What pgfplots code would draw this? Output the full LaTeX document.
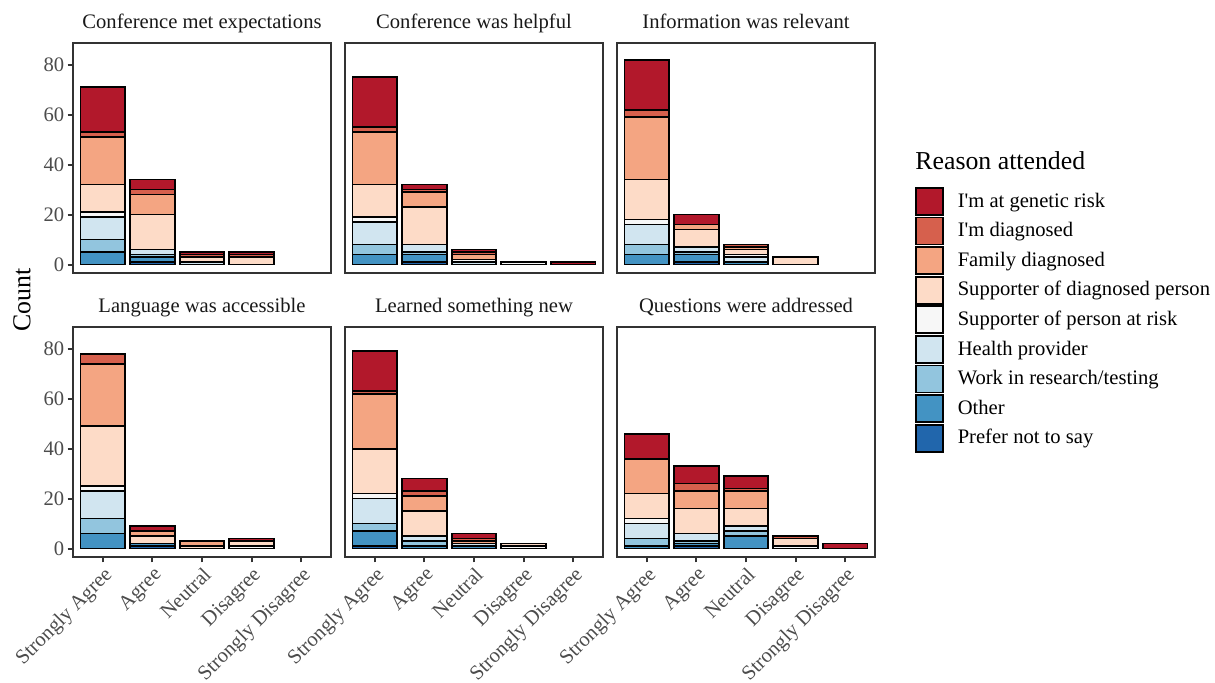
\documentclass[border=0pt]{standalone}
\usepackage{fontspec}
\setmainfont{Liberation Serif}
\usepackage{pgfplots}
\usepackage{pgfplotstable}
\pgfplotsset{compat=1.18}

% RdBu palette, one colour per reason
\definecolor{cG}{HTML}{B2182B}% I'm at genetic risk
\definecolor{cD}{HTML}{D6604D}% I'm diagnosed
\definecolor{cF}{HTML}{F4A582}% Family diagnosed
\definecolor{cSD}{HTML}{FDDBC7}% Supporter of diagnosed person
\definecolor{cSR}{HTML}{F7F7F7}% Supporter of person at risk
\definecolor{cH}{HTML}{D1E5F0}% Health provider
\definecolor{cW}{HTML}{92C5DE}% Work in research/testing
\definecolor{cO}{HTML}{4393C3}% Other
\definecolor{cP}{HTML}{2166AC}% Prefer not to say

% x: 0 Strongly Agree, 1 Agree, 2 Neutral, 3 Disagree, 4 Strongly Disagree
% columns: p prefer, o other, w research, h health, sr supp. at risk,
%          sd supp. diagnosed, f family, d diagnosed, g genetic risk
\pgfplotstableread{
x p o w h sr sd f d g
0 0 5 5 9 2 11 19 2 18
1 1 2 1 2 0 14 8 2 4
2 0 0 0 1 0 2 0 1 1
3 0 0 0 0 0 3 0 1 1
}\tabExpect
\pgfplotstableread{
x p o w h sr sd f d g
0 0 4 4 9 2 13 21 2 20
1 1 3 1 3 0 15 6 1 2
2 0 0 0 1 1 0 2 1 1
3 0 0 0 0 1 0 0 0 0
4 0 0 0 0 0 0 0 0 1
}\tabHelpful
\pgfplotstableread{
x p o w h sr sd f d g
0 0 4 4 8 2 16 25 3 20
1 1 3 1 2 0 7 2 0 4
2 0 1 0 2 1 2 1 1 0
3 0 0 0 0 0 3 0 0 0
}\tabRelevant
\pgfplotstableread{
x p o w h sr sd f d g
0 0 6 6 11 2 24 25 4 0
1 1 1 0 0 0 3 2 0 2
2 0 0 0 0 0 1 2 0 0
3 0 0 0 0 1 2 0 0 1
}\tabLanguage
\pgfplotstableread{
x p o w h sr sd f d g
0 1 6 3 10 2 18 22 1 16
1 0 1 2 2 0 10 6 2 5
2 0 1 0 1 0 0 1 1 2
3 0 0 0 0 1 1 0 0 0
}\tabLearned
\pgfplotstableread{
x p o w h sr sd f d g
0 0 1 3 6 2 10 14 0 10
1 1 1 1 3 0 10 7 3 7
2 0 5 2 2 0 7 7 1 5
3 0 0 0 0 1 3 0 1 0
4 0 0 0 0 0 0 0 0 2
}\tabQuestions

\newcommand{\stackbars}[1]{%
  \addplot[fill=cP]  table[x=x,y=p]{#1};
  \addplot[fill=cO]  table[x=x,y=o]{#1};
  \addplot[fill=cW]  table[x=x,y=w]{#1};
  \addplot[fill=cH]  table[x=x,y=h]{#1};
  \addplot[fill=cSR] table[x=x,y=sr]{#1};
  \addplot[fill=cSD] table[x=x,y=sd]{#1};
  \addplot[fill=cF]  table[x=x,y=f]{#1};
  \addplot[fill=cD]  table[x=x,y=d]{#1};
  \addplot[fill=cG]  table[x=x,y=g]{#1};
}

\newcommand{\smallfont}{\fontsize{10.3}{12}\selectfont}
\newcommand{\bigfont}{\fontsize{12.9}{15}\selectfont}

\pgfplotsset{
  panel/.style={
    scale only axis, width=129pt, height=115pt,
    anchor=north west,
    ybar stacked, bar width=0.9,
    xmin=-0.6, xmax=4.6, ymin=-3.4, ymax=88.7,
    axis line style={draw=black!80, line width=1.1pt},
    tick align=outside, major tick length=2.75pt,
    every tick/.style={draw=black!80, line width=1pt},
    xtick pos=bottom, ytick pos=left,
    xtick={0,...,4}, ytick={0,20,...,80},
    xticklabels={Strongly Agree, Agree, Neutral, Disagree, Strongly Disagree},
    /pgf/number format/assume math mode=true,
    yticklabel style={font=\smallfont, text=black!70, inner sep=1.5pt},
    xticklabel style={font=\smallfont, text=black!70, rotate=45, anchor=north east, inner sep=1pt},
    every axis title/.style={at={(0.5,1)}, anchor=base, yshift=7pt, font=\smallfont, text=black!90},
    every axis plot/.append style={draw=black, line width=0.9pt},
  },
  toprow/.style={xtick=\empty},
  innercol/.style={ytick=\empty},
}

\begin{document}
\begin{tikzpicture}
\useasboundingbox (0pt,0pt) rectangle (607.5pt,-341.5pt);

\begin{axis}[panel, toprow, at={(36.5pt,-21.5pt)}, title={Conference met expectations}]
  \stackbars{\tabExpect}
\end{axis}
\begin{axis}[panel, toprow, innercol, at={(172.5pt,-21.5pt)}, title={Conference was helpful}]
  \stackbars{\tabHelpful}
\end{axis}
\begin{axis}[panel, toprow, innercol, at={(308.5pt,-21.5pt)}, title={Information was relevant},
  reverse legend,
  legend entries={Prefer not to say, Other, Work in research/testing, Health provider,
    Supporter of person at risk, Supporter of diagnosed person, Family diagnosed,
    I\textquotesingle m diagnosed, I\textquotesingle m at genetic risk},
  legend image code/.code={\draw[#1, line width=0.9pt] (0pt,-6.75pt) rectangle (13.5pt,6.75pt);},
  legend style={at={(axis description cs:1.155,0.374)}, anchor=north west,
    draw=none, fill=none, inner sep=0pt, outer sep=0pt,
    row sep=0.4pt, column sep=7pt, font=\smallfont,
    nodes={inner sep=0pt}},
  legend cell align=left]
  \stackbars{\tabRelevant}
\end{axis}

\begin{axis}[panel, at={(36.5pt,-163.5pt)}, title={Language was accessible}]
  \stackbars{\tabLanguage}
\end{axis}
\begin{axis}[panel, innercol, at={(172.5pt,-163.5pt)}, title={Learned something new}]
  \stackbars{\tabLearned}
\end{axis}
\begin{axis}[panel, innercol, at={(308.5pt,-163.5pt)}, title={Questions were addressed}]
  \stackbars{\tabQuestions}
\end{axis}

\node[rotate=90, font=\bigfont] at (11pt,-150pt) {Count};
\node[anchor=base west, inner sep=0pt, font=\bigfont] at (457.5pt,-85pt) {Reason attended};
\end{tikzpicture}
\end{document}
